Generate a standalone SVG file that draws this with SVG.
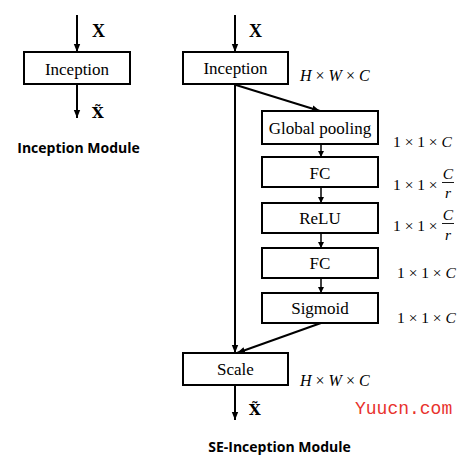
<svg xmlns="http://www.w3.org/2000/svg" width="465" height="462" viewBox="0 0 465 462">
<defs>
<marker id="ah" viewBox="0 0 10 10" refX="10" refY="5" markerWidth="6" markerHeight="6" orient="auto" markerUnits="userSpaceOnUse">
<path d="M0,0 L10,5 L0,10 z" fill="#000"/>
</marker>
<marker id="ahs" viewBox="0 0 10 10" refX="10" refY="5" markerWidth="8" markerHeight="8" orient="auto" markerUnits="userSpaceOnUse">
<path d="M0,1 L10,5 L0,9 z" fill="#000"/>
</marker>
</defs>
<style>
.box{fill:#fff;stroke:#000;stroke-width:2}
.lbl{font-family:"Liberation Serif",serif;font-size:17px;text-anchor:middle;fill:#000}
.bx{font-family:"Liberation Serif",serif;font-size:18px;font-weight:bold;fill:#000}
.bxt{font-family:"DejaVu Serif","Liberation Serif",serif;font-size:15px;font-weight:bold;fill:#000}
.dim{font-family:"Liberation Serif",serif;font-size:15.5px;fill:#000}
.hwc{font-family:"Liberation Serif",serif;font-size:16px;fill:#000}
.it{font-style:italic}
.title{font-family:"Open Sans","Liberation Sans",sans-serif;font-size:14px;font-weight:bold;text-anchor:middle;fill:#000}
.ln{stroke:#000;stroke-width:2;fill:none}
.ln1{stroke:#000;stroke-width:1.5;fill:none}
</style>
<rect width="465" height="462" fill="#fff"/>
<g id="connectors">
<line class="ln" x1="77" y1="15" x2="77" y2="52" marker-end="url(#ahs)"/>
<line class="ln" x1="77" y1="85" x2="77" y2="118" marker-end="url(#ahs)"/>
<line class="ln" x1="235" y1="15" x2="235" y2="52" marker-end="url(#ahs)"/>
<line class="ln" x1="236" y1="85" x2="320" y2="111" marker-end="url(#ahs)"/>
<line class="ln" x1="235" y1="85" x2="235" y2="353" marker-end="url(#ahs)"/>
<line class="ln1" x1="321" y1="144" x2="321" y2="157" marker-end="url(#ah)"/>
<line class="ln1" x1="321" y1="187" x2="321" y2="203" marker-end="url(#ah)"/>
<line class="ln1" x1="321" y1="233" x2="321" y2="248" marker-end="url(#ah)"/>
<line class="ln1" x1="321" y1="278" x2="321" y2="293" marker-end="url(#ah)"/>
<line class="ln" x1="321" y1="323" x2="237" y2="353" marker-end="url(#ahs)"/>
<line class="ln" x1="235" y1="385" x2="235" y2="420" marker-end="url(#ahs)"/>
</g>
<g id="left-inception">
<rect class="box" x="24" y="52" width="106" height="32"/>
<text class="lbl" x="77" y="75">Inception</text>
</g>
<text class="bx" x="92" y="37">X</text>
<text class="bxt" x="92" y="118">X̃</text>
<text class="title" x="78.5" y="153">Inception Module</text>
<g id="inception">
<rect class="box" x="183" y="52" width="105" height="32"/>
<text class="lbl" x="235.5" y="74">Inception</text>
</g>
<text class="bx" x="249" y="37">X</text>
<text class="hwc" x="300" y="81"><tspan class="it">H</tspan> × <tspan class="it">W</tspan> × <tspan class="it">C</tspan></text>
<g id="global-pooling">
<rect class="box" x="262" y="111" width="116" height="33"/>
<text class="lbl" x="320" y="134">Global pooling</text>
</g>
<text class="dim" x="393" y="147">1 × 1 × <tspan class="it">C</tspan></text>
<g id="fc1">
<rect class="box" x="262" y="157" width="116" height="30"/>
<text class="lbl" x="320" y="179">FC</text>
</g>
<text class="dim" x="393" y="190">1 × 1 ×</text>
<text class="dim it" x="448" y="178.5" text-anchor="middle">C</text>
<line x1="442" y1="182.5" x2="454" y2="182.5" stroke="#000" stroke-width="0.9"/>
<text class="dim it" x="448" y="198" text-anchor="middle">r</text>
<g id="relu">
<rect class="box" x="262" y="203" width="116" height="30"/>
<text class="lbl" x="320" y="224">ReLU</text>
</g>
<text class="dim" x="393" y="231">1 × 1 ×</text>
<text class="dim it" x="448" y="220" text-anchor="middle">C</text>
<line x1="442" y1="223.5" x2="454" y2="223.5" stroke="#000" stroke-width="0.9"/>
<text class="dim it" x="448" y="240" text-anchor="middle">r</text>
<g id="fc2">
<rect class="box" x="262" y="248" width="116" height="30"/>
<text class="lbl" x="320" y="269">FC</text>
</g>
<text class="dim" x="397" y="278">1 × 1 × <tspan class="it">C</tspan></text>
<g id="sigmoid">
<rect class="box" x="262" y="293" width="116" height="30"/>
<text class="lbl" x="320" y="314">Sigmoid</text>
</g>
<text class="dim" x="397" y="323">1 × 1 × <tspan class="it">C</tspan></text>
<g id="scale">
<rect class="box" x="183" y="353" width="105" height="32"/>
<text class="lbl" x="235.5" y="375">Scale</text>
</g>
<text class="hwc" x="300" y="386"><tspan class="it">H</tspan> × <tspan class="it">W</tspan> × <tspan class="it">C</tspan></text>
<text class="bxt" x="249" y="415">X̃</text>
<text x="355" y="414" font-family="Liberation Mono,monospace" font-size="18" fill="#e8322d">Yuucn.com</text>
<text class="title" x="279.5" y="452">SE-Inception Module</text>
</svg>
